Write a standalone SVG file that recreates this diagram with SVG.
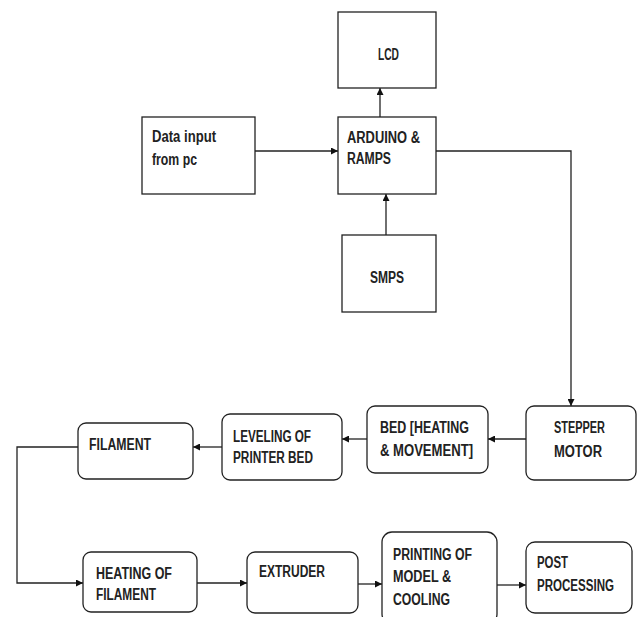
<svg xmlns="http://www.w3.org/2000/svg" width="637" height="617" viewBox="0 0 637 617">
<defs>
<marker id="ah" viewBox="0 0 10 10" refX="10" refY="5" markerWidth="7" markerHeight="7" markerUnits="userSpaceOnUse" orient="auto">
<path d="M0,0 L10,5 L0,10 z" fill="#111"/>
</marker>
<style>
.b{fill:#fff;stroke:#222;stroke-width:1.3}
.t{font-family:"Liberation Sans",Arial,sans-serif;font-weight:bold;font-size:16px;fill:#222}
.c{fill:none;stroke:#222;stroke-width:1.3;marker-end:url(#ah)}
</style>
</defs>
<rect width="637" height="617" fill="#fff"/>
<g id="connectors">
<path class="c" d="M255,151 H338"/>
<path class="c" d="M380,117 V88"/>
<path class="c" d="M386,235 V194"/>
<path class="c" d="M436,151 H571 V406"/>
<path class="c" d="M526,439 H488"/>
<path class="c" d="M367,439 H342"/>
<path class="c" d="M222,447 H193"/>
<path class="c" d="M78,447 H17 V583 H83"/>
<path class="c" d="M197,583 H247"/>
<path class="c" d="M358,584 H382"/>
<path class="c" d="M497,585 H526"/>
</g>
<g id="lcd"><rect class="b" x="338" y="12" width="98" height="76"/><text class="t" x="378" y="60" textLength="21" lengthAdjust="spacingAndGlyphs">LCD</text></g>
<g id="data"><rect class="b" x="142" y="117" width="113" height="77"/><text class="t" x="152" y="142" textLength="64" lengthAdjust="spacingAndGlyphs">Data input</text><text class="t" x="152" y="165" textLength="45" lengthAdjust="spacingAndGlyphs">from pc</text></g>
<g id="arduino"><rect class="b" x="338" y="117" width="98" height="77"/><text class="t" x="347" y="143" textLength="73" lengthAdjust="spacingAndGlyphs">ARDUINO &amp;</text><text class="t" x="347" y="164" textLength="44" lengthAdjust="spacingAndGlyphs">RAMPS</text></g>
<g id="smps"><rect class="b" x="342" y="235" width="94" height="77"/><text class="t" x="370" y="283" textLength="34" lengthAdjust="spacingAndGlyphs">SMPS</text></g>
<g id="stepper"><rect class="b" x="526" y="406" width="110" height="74" rx="8"/><text class="t" x="554" y="433" textLength="51" lengthAdjust="spacingAndGlyphs">STEPPER</text><text class="t" x="554" y="457" textLength="48" lengthAdjust="spacingAndGlyphs">MOTOR</text></g>
<g id="bed"><rect class="b" x="367" y="406" width="121" height="67" rx="8"/><text class="t" x="380" y="433" textLength="89" lengthAdjust="spacingAndGlyphs">BED [HEATING</text><text class="t" x="380" y="456" textLength="93" lengthAdjust="spacingAndGlyphs">&amp; MOVEMENT]</text></g>
<g id="leveling"><rect class="b" x="222" y="414" width="120" height="66" rx="8"/><text class="t" x="233" y="442" textLength="78" lengthAdjust="spacingAndGlyphs">LEVELING OF</text><text class="t" x="233" y="463" textLength="80" lengthAdjust="spacingAndGlyphs">PRINTER BED</text></g>
<g id="filament"><rect class="b" x="78" y="423" width="115" height="56" rx="8"/><text class="t" x="89" y="450" textLength="62" lengthAdjust="spacingAndGlyphs">FILAMENT</text></g>
<g id="heating"><rect class="b" x="83" y="552" width="114" height="60" rx="8"/><text class="t" x="96" y="579" textLength="76" lengthAdjust="spacingAndGlyphs">HEATING OF</text><text class="t" x="96" y="600" textLength="60" lengthAdjust="spacingAndGlyphs">FILAMENT</text></g>
<g id="extruder"><rect class="b" x="247" y="552" width="111" height="61" rx="8"/><text class="t" x="259" y="577" textLength="66" lengthAdjust="spacingAndGlyphs">EXTRUDER</text></g>
<g id="printing"><rect class="b" x="382" y="532" width="115" height="92" rx="10"/><text class="t" x="393" y="560" textLength="79" lengthAdjust="spacingAndGlyphs">PRINTING OF</text><text class="t" x="393" y="582" textLength="58" lengthAdjust="spacingAndGlyphs">MODEL &amp;</text><text class="t" x="393" y="605" textLength="57" lengthAdjust="spacingAndGlyphs">COOLING</text></g>
<g id="post"><rect class="b" x="526" y="542" width="106" height="71" rx="9"/><text class="t" x="537" y="568" textLength="31" lengthAdjust="spacingAndGlyphs">POST</text><text class="t" x="537" y="591" textLength="77" lengthAdjust="spacingAndGlyphs">PROCESSING</text></g>
</svg>
